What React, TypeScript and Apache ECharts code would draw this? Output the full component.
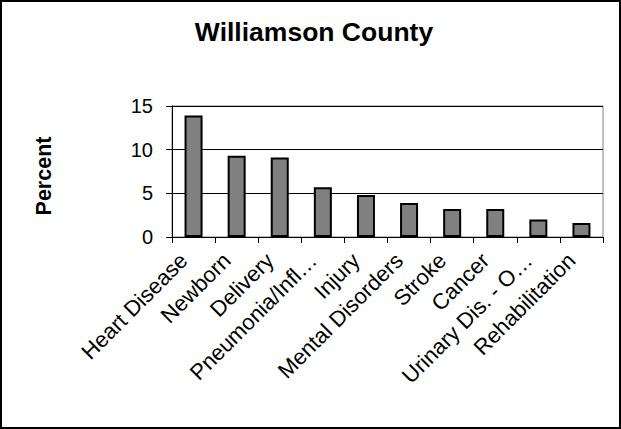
import React, { useEffect, useRef } from "react";
import * as echarts from "echarts";

const categories = [
  "Heart Disease",
  "Newborn",
  "Delivery",
  "Pneumonia/Infl…",
  "Injury",
  "Mental Disorders",
  "Stroke",
  "Cancer",
  "Urinary Dis. - O…",
  "Rehabilitation",
];
const percentValues = [13.9, 9.3, 9.1, 5.7, 4.8, 3.9, 3.2, 3.2, 2.0, 1.6];
const yTicks = [0, 5, 10, 15];
const chartTitle = "Williamson County";
const yAxisTitle = "Percent";

const FONT = "Liberation Sans, Arial, sans-serif";

export default function App() {
  const ref = useRef<HTMLDivElement>(null);
  useEffect(() => {
    if (!ref.current) return;
    const chart = echarts.init(ref.current, null, { renderer: "svg" });
    chart.setOption({
      animation: false,
      backgroundColor: "#ffffff",
      title: {
        text: chartTitle,
        left: 309,
        textAlign: "center",
        top: 13,
        textStyle: { fontFamily: FONT, fontSize: 26.5, fontWeight: "bold", color: "#000" },
      },
      graphic: [
        {
          type: "rect",
          shape: { x: 1, y: 1, width: 619, height: 427 },
          style: { fill: "none", stroke: "#000", lineWidth: 2 },
          silent: true,
        },
      ],
      grid: {
        left: 172,
        right: 18,
        top: 106,
        bottom: 192,
        show: true,
        borderColor: "#808080",
        borderWidth: 1,
        backgroundColor: "#fff",
      },
      xAxis: {
        type: "category",
        data: categories,
        axisLine: { show: true, lineStyle: { color: "#000", width: 1 } },
        axisTick: { show: true, alignWithLabel: false, length: 6, lineStyle: { color: "#000" } },
        axisLabel: {
          rotate: 45,
          interval: 0,
          margin: 10,
          padding: [0, 14, 0, 0],
          fontFamily: FONT,
          fontSize: 22,
          color: "#000",
        },
      },
      yAxis: {
        type: "value",
        min: yTicks[0],
        max: yTicks[yTicks.length - 1],
        interval: 5,
        name: yAxisTitle,
        nameLocation: "middle",
        nameRotate: 90,
        nameGap: 117,
        nameTextStyle: {
          fontFamily: FONT,
          fontSize: 21.5,
          fontWeight: "bold",
          color: "#000",
          padding: [0, 9, 0, 0],
        },
        axisLine: { show: true, lineStyle: { color: "#000", width: 1 } },
        axisTick: { show: true, length: 6, lineStyle: { color: "#000" } },
        axisLabel: { fontFamily: FONT, fontSize: 20, color: "#000", margin: 19 },
        splitLine: { show: true, lineStyle: { color: "#000", width: 1 } },
      },
      series: [
        {
          type: "bar",
          data: percentValues,
          barWidth: 18,
          itemStyle: { color: "#808080", borderColor: "#000", borderWidth: 2 },
        },
      ],
    });
    return () => chart.dispose();
  }, []);
  return (
    <div
      ref={ref}
      style={{ position: "absolute", left: 0, top: 0, width: 621, height: 429 }}
    />
  );
}
